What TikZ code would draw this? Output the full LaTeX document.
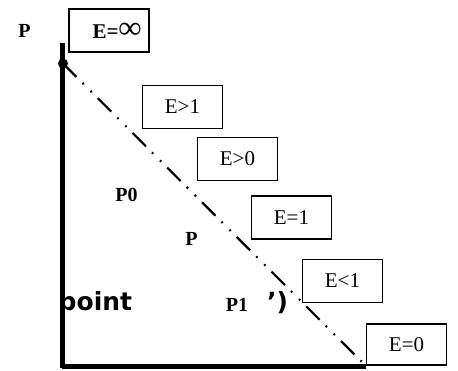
\documentclass[tikz,border=0pt]{standalone}
\usepackage{fontspec}
\setmainfont{Liberation Serif}
\newfontfamily\bigsans{DejaVu Sans}
\usetikzlibrary{positioning}
\tikzset{
  ebox/.style  ={rectangle, draw=black, line width=1.4pt, fill=white,
                 minimum width=80pt, minimum height=43pt, inner sep=0pt,
                 font=\fontsize{21}{23}\selectfont},
  plbl/.style  ={font=\fontsize{20}{22}\selectfont\bfseries, inner sep=0pt},
  ptxt/.style  ={font=\fontsize{25}{27}\selectfont\bigsans\bfseries,
                 inner sep=0pt, anchor=base west},
  axis/.style  ={line width=5pt, draw=black},
  traj/.style  ={line width=2.2pt, draw=black,
                 dash pattern=on 19pt off 8.5pt on 1.8pt off 9.5pt on 1.8pt off 8.5pt}
}
\begin{document}
\begin{tikzpicture}[x=1pt,y=-1pt]
\useasboundingbox (0,0) rectangle (458,370);

%% ---- loose labels --------------------------------------------------
\node[plbl] (ptop) at (24.5,31) {P};
\node[plbl] (pzero) at (126.5,195) {P0};
\node[plbl] (pmid) at (191.5,239) {P};
\node[plbl] (pone) at (237,304.5) {P1};
\begin{scope}
\clip (64.5,280) rectangle (160,330);
\node[ptxt] (point) at (58.5,310) {point};
\end{scope}
\node[ptxt] (close) at (267,310) {’)};

%% ---- axes and path -------------------------------------------------
\coordinate (origin) at (62,366);
\coordinate (ytop) at (62,43);
\coordinate (xend) at (366,366);
\node[circle, fill=black, minimum size=10pt, inner sep=0pt] (start) at (63,63.5) {};
\draw[traj] (start.center) -- (xend);
\draw[axis] (ytop) -- (origin |- 0,368);
\draw[axis] (origin) -- (xend);

%% ---- energy boxes --------------------------------------------------
\node[ebox] (einf) at (109,30.5)
  {\hspace*{16pt}\textbf{E=}{\fontsize{32}{32}\selectfont\bfseries ∞}};
\node[ebox] (egtone) at (182.5,107) {E>1};
\node[ebox] (egtzero) at (237.5,159) {E>0};
\node[ebox] (eone) at (291.5,217.5) {E=1};
\node[ebox] (eltone) at (342.5,281) {E<1};
\node[ebox, minimum height=41pt] (ezero) at (406.5,344.5) {E=0};
\end{tikzpicture}
\end{document}
